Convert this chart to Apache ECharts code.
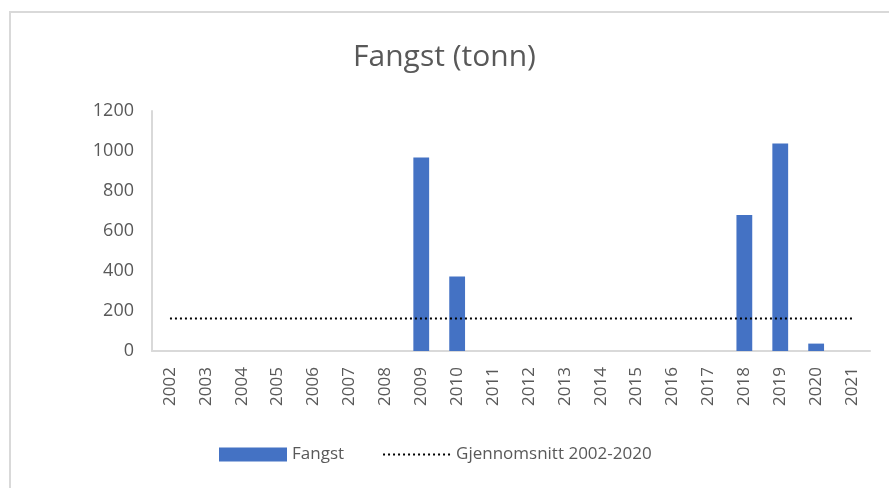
<!DOCTYPE html>
<html>
<head>
<meta charset="utf-8">
<script src="https://cdn.jsdelivr.net/npm/echarts@6/dist/echarts.min.js"></script>
<style>
  html, body { margin: 0; padding: 0; background: #fff; }
  #frame {
    position: absolute; left: 9px; top: 11px; width: 900px; height: 500px;
    border-left: 2px solid #d9d9d9; border-top: 2px solid #d9d9d9;
  }
  #chart { position: absolute; left: 0; top: 0; width: 889px; height: 488px; }
</style>
</head>
<body>
<div id="frame"></div>
<div id="chart"></div>
<script>
// kategorier (år)
var years = ['2002', '2003', '2004', '2005', '2006', '2007', '2008', '2009', '2010', '2011',
             '2012', '2013', '2014', '2015', '2016', '2017', '2018', '2019', '2020', '2021']
// fangst i tonn, lest av bildet
var fangst = [0, 0, 0, 0, 0, 0, 0, 968, 372, 0, 0, 0, 0, 0, 0, 0, 680, 1038, 37, 0]
// gjennomsnitt 2002-2020
var snitt = [163, 163, 163, 163, 163, 163, 163, 163, 163, 163,
             163, 163, 163, 163, 163, 163, 163, 163, 163, 163]
var yTicks = [0, 200, 400, 600, 800, 1000, 1200]

var font = '"Open Sans", "Liberation Sans", sans-serif'
var chart = echarts.init(document.getElementById('chart'))

chart.setOption({
  animation: false,
  backgroundColor: 'transparent',
  title: {
    text: 'Fangst (tonn)',
    left: 'center',
    top: 37,
    textStyle: { fontFamily: font, fontSize: 30, fontWeight: 'normal', color: '#595959' }
  },
  grid: { left: 152, right: 19, top: 111, bottom: 137 },
  legend: {
    bottom: 20,
    left: 214,
    itemGap: 38,
    itemWidth: 68,
    itemHeight: 14,
    textStyle: { fontFamily: font, fontSize: 17, color: '#595959' },
    data: [
      { name: 'Fangst', icon: 'rect' },
      'Gjennomsnitt 2002-2020'
    ]
  },
  xAxis: {
    type: 'category',
    data: years,
    axisLine: { lineStyle: { color: '#d9d9d9', width: 2 } },
    axisTick: { show: false },
    axisLabel: {
      rotate: 90,
      interval: 0,
      margin: 16,
      fontFamily: font,
      fontSize: 17,
      color: '#595959'
    }
  },
  yAxis: {
    type: 'value',
    min: 0,
    max: yTicks[yTicks.length - 1],
    interval: 200,
    axisLine: { show: true, lineStyle: { color: '#d9d9d9', width: 2 } },
    axisTick: { show: false },
    splitLine: { show: false },
    axisLabel: {
      margin: 18,
      fontFamily: font,
      fontSize: 18,
      color: '#595959',
      formatter: function (v) { return String(v) }
    }
  },
  series: [
    {
      name: 'Fangst',
      type: 'bar',
      data: fangst,
      barWidth: '44%',
      itemStyle: { color: '#4472c4' }
    },
    {
      name: 'Gjennomsnitt 2002-2020',
      type: 'line',
      data: snitt,
      symbol: 'none',
      z: 3,
      lineStyle: { color: '#000', width: 2, type: [2, 3] },
      itemStyle: { color: '#000', opacity: 0 }
    }
  ]
})
</script>
</body>
</html>
